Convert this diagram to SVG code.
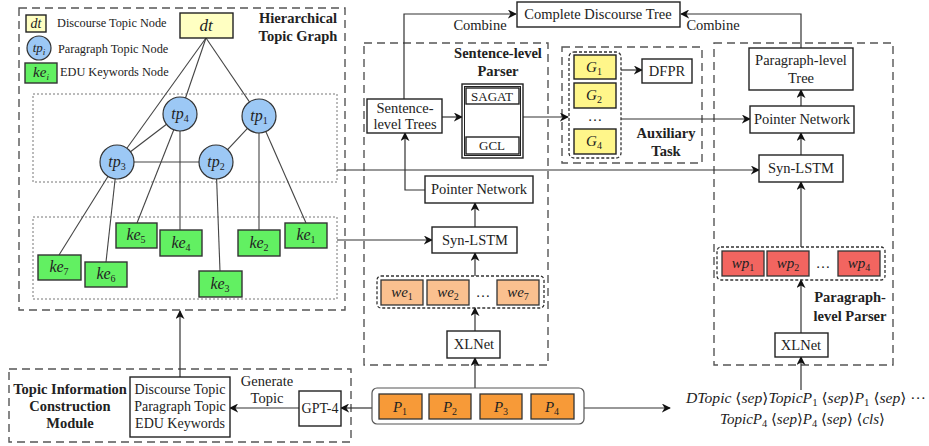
<svg xmlns="http://www.w3.org/2000/svg" width="929" height="446" viewBox="0 0 929 446">
<defs>
<marker id="ah" viewBox="0 0 10 10" refX="9" refY="5" markerWidth="9" markerHeight="9" markerUnits="userSpaceOnUse" orient="auto-start-reverse">
<path d="M0,0 L10,5 L0,10 L3,5 z" fill="#111"/>
</marker>
<style>
.box{fill:#fff;stroke:#222;stroke-width:1.4}
.dash{fill:none;stroke:#555;stroke-width:1.4;stroke-dasharray:8,5}
.dot{fill:none;stroke:#777;stroke-width:1;stroke-dasharray:2,2}
.gdot{fill:none;stroke:#333;stroke-width:1.3;stroke-dasharray:3,2}
.edge{stroke:#444;stroke-width:1.1;fill:none}
.arr{stroke:#333;stroke-width:1.2;fill:none;marker-end:url(#ah)}
.t{font-family:'Liberation Serif','DejaVu Serif','Noto Serif',serif;font-size:14.5px;fill:#222}
.c{text-anchor:middle}
.b{font-weight:bold;font-size:14.5px}
.m{font-style:italic}
.f12{font-size:12.3px}
.f13{font-size:13px}
.f14{font-size:14px}
.f15{font-size:15px}
.f16{font-size:16px}
.f17{font-size:17px}
.s{font-style:normal;font-size:10px}
.si{font-style:italic;font-size:9px}
.tp{fill:#9CC8F5;stroke:#333;stroke-width:1.2}
.ke{fill:#62F062;stroke:#333;stroke-width:1.4}
.dt{fill:#FFFFC2;stroke:#222;stroke-width:1.4}
.g{fill:#FFF68A;stroke:#222;stroke-width:1.4}
.p{fill:#F79A38;stroke:#333;stroke-width:1.3}
.we{fill:#FAC08F;stroke:#333;stroke-width:1.3}
.wp{fill:#F26560;stroke:#333;stroke-width:1.3}
</style>
</defs>
<rect width="929" height="446" fill="#fff"/>

<g id="containers">
<rect class="dash" x="19" y="8" width="326" height="302"/>
<rect class="dot" x="33" y="94" width="304" height="88"/>
<rect class="dot" x="33" y="217" width="304" height="82"/>
<rect class="dash" x="9" y="369" width="342" height="73"/>
<rect class="dash" x="364" y="43" width="184" height="322"/>
<rect class="dash" x="562" y="47" width="140" height="116"/>
<rect class="dash" x="714" y="43" width="179" height="322"/>
<text class="t b c" x="298" y="23">Hierarchical</text>
<text class="t b c" x="298" y="41">Topic Graph</text>
<text class="t b c" x="498" y="58">Sentence-level</text>
<text class="t b c" x="498" y="76">Parser</text>
<text class="t b c" x="666" y="138">Auxiliary</text>
<text class="t b c" x="666" y="156">Task</text>
<text class="t b c" x="850" y="302">Paragraph-</text>
<text class="t b c" x="850" y="321">level Parser</text>
<text class="t b c" x="70" y="394">Topic Information</text>
<text class="t b c" x="70" y="411">Construction</text>
<text class="t b c" x="70" y="428">Module</text>
</g>

<g id="connectors">
<line class="edge" x1="206" y1="38" x2="180" y2="114"/>
<line class="edge" x1="206" y1="38" x2="259" y2="116"/>
<line class="edge" x1="206" y1="38" x2="117" y2="162"/>
<line class="edge" x1="180" y1="114" x2="117" y2="162"/>
<line class="edge" x1="117" y1="162" x2="216" y2="162"/>
<line class="edge" x1="216" y1="162" x2="259" y2="116"/>
<line class="edge" x1="117" y1="162" x2="59" y2="255"/>
<line class="edge" x1="117" y1="162" x2="106" y2="262"/>
<line class="edge" x1="180" y1="114" x2="137" y2="223"/>
<line class="edge" x1="180" y1="114" x2="180" y2="230"/>
<line class="edge" x1="216" y1="162" x2="220" y2="271"/>
<line class="edge" x1="259" y1="116" x2="259" y2="230"/>
<line class="edge" x1="259" y1="116" x2="306" y2="223"/>
<path class="arr" d="M404,99 V14 H516"/>
<path class="arr" d="M801,48 V14 H681"/>
<path class="arr" d="M442,117 H462"/>
<path class="arr" d="M523,117 H568"/>
<path class="arr" d="M621,70 H642"/>
<path class="arr" d="M621,119 H750"/>
<path class="arr" d="M337,170 H759"/>
<path class="arr" d="M337,240 H432"/>
<path class="arr" d="M425,190 H405 V133"/>
<path class="arr" d="M475,227 V203"/>
<path class="arr" d="M475,276 V253"/>
<path class="arr" d="M475,331 V308"/>
<path class="arr" d="M475,388 V358"/>
<path class="arr" d="M584,408 H670"/>
<path class="arr" d="M372,408 H341"/>
<path class="arr" d="M299,408 H230"/>
<path class="arr" d="M180,377 V311"/>
<path class="arr" d="M801,390 V357"/>
<path class="arr" d="M801,333 V280"/>
<path class="arr" d="M801,247 V182"/>
<path class="arr" d="M801,155 V133"/>
<path class="arr" d="M801,106 V90"/>
<path class="arr" d="M493,105 V136" style="marker-start:url(#ah)"/>
<text class="t c" x="480" y="30">Combine</text>
<text class="t c" x="713" y="30">Combine</text>
<text class="t c" x="267" y="386">Generate</text>
<text class="t c" x="267" y="403">Topic</text>
</g>

<g id="legend">
<rect class="dt" x="26" y="15" width="20" height="17"/>
<text class="t m c f14" x="36" y="28">dt</text>
<text class="t f12" x="57" y="27">Discourse Topic Node</text>
<circle class="tp" cx="39" cy="48" r="12"/>
<text class="t m c f13" x="39" y="52">tp<tspan class="si" dy="3">i</tspan></text>
<text class="t f12" x="58" y="53">Paragraph Topic Node</text>
<rect class="ke" x="25" y="63" width="32" height="20"/>
<text class="t m c f15" x="41" y="77">ke<tspan class="si" dy="3">i</tspan></text>
<text class="t f12" x="60" y="76">EDU Keywords Node</text>
</g>

<g id="n-dt"><rect class="dt" x="180" y="13" width="53" height="25"/><text class="t m c f17" x="206" y="31">dt</text></g>
<g id="n-tp4"><circle class="tp" cx="180" cy="114" r="17"/><text class="t m c f16" x="180" y="119">tp<tspan class="s" dy="3">4</tspan></text></g>
<g id="n-tp1"><circle class="tp" cx="259" cy="116" r="17"/><text class="t m c f16" x="259" y="121">tp<tspan class="s" dy="3">1</tspan></text></g>
<g id="n-tp3"><circle class="tp" cx="117" cy="162" r="17"/><text class="t m c f16" x="117" y="167">tp<tspan class="s" dy="3">3</tspan></text></g>
<g id="n-tp2"><circle class="tp" cx="216" cy="162" r="17"/><text class="t m c f16" x="216" y="167">tp<tspan class="s" dy="3">2</tspan></text></g>

<g id="n-ke5"><rect class="ke" x="116" y="223" width="41" height="25"/><text class="t m c f16" x="136" y="240">ke<tspan class="s" dy="3">5</tspan></text></g>
<g id="n-ke4"><rect class="ke" x="160" y="230" width="42" height="26"/><text class="t m c f16" x="181" y="248">ke<tspan class="s" dy="3">4</tspan></text></g>
<g id="n-ke2"><rect class="ke" x="238" y="230" width="42" height="26"/><text class="t m c f16" x="259" y="248">ke<tspan class="s" dy="3">2</tspan></text></g>
<g id="n-ke1"><rect class="ke" x="285" y="223" width="42" height="25"/><text class="t m c f16" x="306" y="240">ke<tspan class="s" dy="3">1</tspan></text></g>
<g id="n-ke7"><rect class="ke" x="38" y="255" width="43" height="25"/><text class="t m c f16" x="59" y="272">ke<tspan class="s" dy="3">7</tspan></text></g>
<g id="n-ke6"><rect class="ke" x="85" y="262" width="42" height="25"/><text class="t m c f16" x="106" y="279">ke<tspan class="s" dy="3">6</tspan></text></g>
<g id="n-ke3"><rect class="ke" x="199" y="271" width="43" height="26"/><text class="t m c f16" x="220" y="289">ke<tspan class="s" dy="3">3</tspan></text></g>

<g id="n-topicinfo"><rect class="box" x="130" y="377" width="100" height="60"/>
<text class="t c f14" x="180" y="394">Discourse Topic</text>
<text class="t c f14" x="180" y="411">Paragraph Topic</text>
<text class="t c f14" x="180" y="428">EDU Keywords</text></g>
<g id="n-gpt4"><rect class="box" x="299" y="391" width="42" height="35"/><text class="t c f14" x="320" y="413">GPT-4</text></g>

<g id="n-paras"><rect fill="#fff" stroke="#555" stroke-width="1.2" x="372" y="388" width="212" height="36" rx="5"/>
<rect class="p" x="379" y="394" width="43" height="25"/><text class="t m c f15" x="400" y="412">P<tspan class="s" dy="3">1</tspan></text>
<rect class="p" x="429" y="394" width="42" height="25"/><text class="t m c f15" x="450" y="412">P<tspan class="s" dy="3">2</tspan></text>
<rect class="p" x="480" y="394" width="42" height="25"/><text class="t m c f15" x="501" y="412">P<tspan class="s" dy="3">3</tspan></text>
<rect class="p" x="531" y="394" width="43" height="25"/><text class="t m c f15" x="552" y="412">P<tspan class="s" dy="3">4</tspan></text></g>

<g id="n-input"><text class="t" x="686" y="403" textLength="240" lengthAdjust="spacingAndGlyphs"><tspan class="m">DTopic</tspan> ⟨<tspan class="m">sep</tspan>⟩<tspan class="m">TopicP</tspan><tspan class="s" dy="3">1</tspan><tspan dy="-3"> ⟨</tspan><tspan class="m">sep</tspan>⟩<tspan class="m">P</tspan><tspan class="s" dy="3">1</tspan><tspan dy="-3"> ⟨</tspan><tspan class="m">sep</tspan>⟩ ···</text>
<text class="t" x="720" y="424" textLength="165" lengthAdjust="spacingAndGlyphs"><tspan class="m">TopicP</tspan><tspan class="s" dy="3">4</tspan><tspan dy="-3"> ⟨</tspan><tspan class="m">sep</tspan>⟩<tspan class="m">P</tspan><tspan class="s" dy="3">4</tspan><tspan dy="-3"> ⟨</tspan><tspan class="m">sep</tspan>⟩ ⟨<tspan class="m">cls</tspan>⟩</text></g>

<g id="n-complete"><rect class="box" x="517" y="2" width="163" height="25"/><text class="t c" x="598" y="19">Complete Discourse Tree</text></g>

<g id="n-senttrees"><rect class="box" x="367" y="99" width="75" height="34"/><text class="t c" x="405" y="113">Sentence-</text><text class="t c" x="405" y="129">level Trees</text></g>
<g id="n-sagat-gcl"><rect class="box" x="462" y="84" width="61" height="74"/><rect fill="none" stroke="#222" stroke-width="1" x="464.5" y="86.5" width="56" height="69"/>
<rect class="box" x="466" y="88" width="53" height="16"/><text class="t c f13" x="492" y="101">SAGAT</text>
<rect class="box" x="466" y="137" width="53" height="17"/><text class="t c f13" x="492" y="150">GCL</text></g>
<g id="n-ptr-s"><rect class="box" x="425" y="176" width="108" height="27"/><text class="t c" x="479" y="194">Pointer Network</text></g>
<g id="n-syn-s"><rect class="box" x="432" y="227" width="85" height="26"/><text class="t c" x="475" y="245">Syn-LSTM</text></g>
<g id="n-we"><rect class="gdot" x="377" y="276" width="167" height="32" rx="4"/>
<rect class="we" x="381" y="280" width="42" height="25"/><text class="t m c f15" x="402" y="297">we<tspan class="s" dy="3">1</tspan></text>
<rect class="we" x="427" y="280" width="42" height="25"/><text class="t m c f15" x="448" y="297">we<tspan class="s" dy="3">2</tspan></text>
<text class="t c" x="483" y="297">…</text>
<rect class="we" x="497" y="280" width="42" height="25"/><text class="t m c f15" x="518" y="297">we<tspan class="s" dy="3">7</tspan></text></g>
<g id="n-xlnet-s"><rect class="box" x="447" y="331" width="53" height="27"/><text class="t c" x="474" y="349">XLNet</text></g>

<g id="n-g"><rect class="gdot" x="569" y="52" width="52" height="106" rx="5"/>
<rect class="g" x="574" y="55" width="42" height="24"/><text class="t m c f15" x="594" y="72">G<tspan class="s" dy="3">1</tspan></text>
<rect class="g" x="574" y="83" width="42" height="25"/><text class="t m c f15" x="594" y="100">G<tspan class="s" dy="3">2</tspan></text>
<text class="t c" x="595" y="121">…</text>
<rect class="g" x="574" y="129" width="42" height="25"/><text class="t m c f15" x="594" y="146">G<tspan class="s" dy="3">4</tspan></text></g>
<g id="n-dfpr"><rect class="box" x="642" y="59" width="50" height="24"/><text class="t c" x="667" y="76">DFPR</text></g>

<g id="n-ptree"><rect class="box" x="749" y="48" width="104" height="42"/><text class="t c" x="801" y="65">Paragraph-level</text><text class="t c" x="801" y="83">Tree</text></g>
<g id="n-ptr-p"><rect class="box" x="750" y="106" width="104" height="27"/><text class="t c" x="802" y="124">Pointer Network</text></g>
<g id="n-syn-p"><rect class="box" x="759" y="155" width="84" height="27"/><text class="t c" x="801" y="173">Syn-LSTM</text></g>
<g id="n-wp"><rect class="gdot" x="717" y="247" width="168" height="33" rx="4"/>
<rect class="wp" x="722" y="251" width="42" height="25"/><text class="t m c f15" x="743" y="268">wp<tspan class="s" dy="3">1</tspan></text>
<rect class="wp" x="767" y="251" width="42" height="25"/><text class="t m c f15" x="788" y="268">wp<tspan class="s" dy="3">2</tspan></text>
<text class="t c" x="823" y="268">…</text>
<rect class="wp" x="838" y="251" width="42" height="25"/><text class="t m c f15" x="859" y="268">wp<tspan class="s" dy="3">4</tspan></text></g>
<g id="n-xlnet-p"><rect class="box" x="775" y="333" width="53" height="24"/><text class="t c" x="801" y="350">XLNet</text></g>
</svg>
